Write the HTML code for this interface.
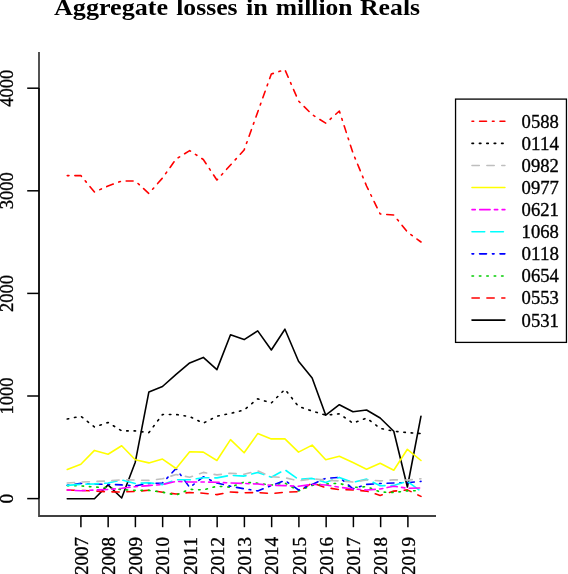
<!DOCTYPE html>
<html><head><meta charset="utf-8"><title>Aggregate losses</title>
<style>html,body{margin:0;padding:0;background:#fff;width:568px;height:574px;overflow:hidden;font-family:"Liberation Serif",serif}svg{display:block;will-change:transform}</style>
</head><body>
<svg width="568" height="574" viewBox="0 0 568 574">
<g font-family="Liberation Serif" font-weight="bold" font-size="22.5">
<text x="54" y="15.4" textLength="114" lengthAdjust="spacingAndGlyphs">Aggregate</text>
<text x="176.2" y="15.4" textLength="61.4" lengthAdjust="spacingAndGlyphs">losses</text>
<text x="245.9" y="15.4" textLength="21.9" lengthAdjust="spacingAndGlyphs">in</text>
<text x="275.8" y="15.4" textLength="76.7" lengthAdjust="spacingAndGlyphs">million</text>
<text x="360" y="15.4" textLength="60.1" lengthAdjust="spacingAndGlyphs">Reals</text>
</g>
<g fill="none" stroke-width="1.6" stroke-linejoin="round" stroke-linecap="round">
<polyline points="67.25,498.8 80.86,498.8 94.46,498.8 108.06,484.9 121.67,498 135.28,462.2 148.88,391.9 162.49,386.5 176.09,374.4 189.69,362.9 203.3,357.4 216.91,369.6 230.51,334.7 244.12,339.6 257.72,330.9 271.33,350 284.93,329.2 298.53,361.2 312.14,377.9 325.75,415.2 339.35,404.7 352.95,411.7 366.56,410 380.17,418 393.77,431.2 407.38,487 420.98,416.2" stroke="#000000"/>
<polyline points="67.25,490 80.86,490.5 94.46,491 108.06,491.8 121.67,492 135.28,491.4 148.88,490.2 162.49,492.2 176.09,494 189.69,492.5 203.3,493.2 216.91,494.6 230.51,492 244.12,492.8 257.72,492.5 271.33,493.6 284.93,492.2 298.53,491.7 312.14,483 325.75,487.6 339.35,489.6 352.95,489.9 366.56,491.1 380.17,495.4 393.77,491.1 407.38,489.9 420.98,496.4" stroke="#ff0000" stroke-dasharray="7.3,7.6"/>
<polyline points="67.25,485.6 80.86,485.9 94.46,487 108.06,487.8 121.67,489.6 135.28,490.4 148.88,490.4 162.49,492.2 176.09,495.1 189.69,489.3 203.3,489.9 216.91,486.2 230.51,487.2 244.12,482 257.72,483.3 271.33,485.1 284.93,483 298.53,490.9 312.14,485.4 325.75,484 339.35,483.3 352.95,487.5 366.56,486.6 380.17,492 393.77,492.5 407.38,490.9 420.98,490.7" stroke="#00cd00" stroke-dasharray="1.5,5.9"/>
<polyline points="67.25,485.3 80.86,483.4 94.46,484 108.06,484.4 121.67,484.9 135.28,485.8 148.88,483.5 162.49,483 176.09,468.5 189.69,487.5 203.3,476.8 216.91,483 230.51,486.2 244.12,488.8 257.72,490.9 271.33,485.6 284.93,480.4 298.53,490 312.14,484.4 325.75,478.3 339.35,477.4 352.95,488.8 366.56,484.4 380.17,483.5 393.77,483 407.38,482.7 420.98,481.4" stroke="#0000ff" stroke-dasharray="1.7,5.9,6.9,5.9"/>
<polyline points="67.25,485.4 80.86,484.3 94.46,483.9 108.06,483 121.67,480 135.28,483.5 148.88,482.7 162.49,484.6 176.09,479.8 189.69,479.8 203.3,477.7 216.91,477.9 230.51,475.3 244.12,476.1 257.72,472.4 271.33,477.2 284.93,469.8 298.53,479.4 312.14,478.4 325.75,482.5 339.35,477.4 352.95,482.3 366.56,479.1 380.17,485.8 393.77,485.4 407.38,481.3 420.98,491.4" stroke="#00ffff" stroke-dasharray="12.7,6"/>
<polyline points="67.25,490 80.86,490.8 94.46,490 108.06,489.5 121.67,488.3 135.28,486.7 148.88,485.6 162.49,484.5 176.09,481.4 189.69,482 203.3,482 216.91,482.3 230.51,483 244.12,483.5 257.72,484 271.33,485.4 284.93,485.6 298.53,486.2 312.14,484.4 325.75,485 339.35,487.2 352.95,489 366.56,490 380.17,489 393.77,486.2 407.38,488.3 420.98,488" stroke="#ff00ff" stroke-dasharray="3.3,4.4,10.4,4.3"/>
<polyline points="67.25,469.5 80.86,464.3 94.46,450.4 108.06,454.2 121.67,445.8 135.28,459.8 148.88,462.9 162.49,459.1 176.09,468.5 189.69,451.8 203.3,452.1 216.91,460.5 230.51,439.6 244.12,452.8 257.72,433.6 271.33,438.9 284.93,438.9 298.53,452.1 312.14,445.1 325.75,459.8 339.35,456.3 352.95,462.6 366.56,469.2 380.17,463.3 393.77,470.2 407.38,449.3 420.98,460.5" stroke="#ffff00"/>
<polyline points="67.25,483 80.86,482 94.46,481.5 108.06,481 121.67,479.8 135.28,480 148.88,480.4 162.49,478.8 176.09,474.5 189.69,477.2 203.3,472.4 216.91,474.9 230.51,473.2 244.12,474.3 257.72,470.8 271.33,476.7 284.93,477.7 298.53,481 312.14,478.7 325.75,480.2 339.35,480.9 352.95,482 366.56,480 380.17,480.9 393.77,479.8 407.38,480.1 420.98,478.8" stroke="#bebebe" stroke-dasharray="7.3,7.6"/>
<polyline points="67.25,419 80.86,416.2 94.46,427 108.06,422.5 121.67,430.9 135.28,430.9 148.88,432.6 162.49,414.5 176.09,414.5 189.69,416.6 203.3,423.2 216.91,416.2 230.51,413.4 244.12,410 257.72,398.8 271.33,403 284.93,389.3 298.53,406.5 312.14,411 325.75,415.2 339.35,413.8 352.95,423.2 366.56,418 380.17,428.4 393.77,431.2 407.38,432.6 420.98,433.6" stroke="#000000" stroke-dasharray="1.5,5.9"/>
<polyline points="67.25,175.6 80.86,175.6 94.46,192 108.06,186 121.67,181 135.28,181 148.88,193.5 162.49,178 176.09,159 189.69,150.6 203.3,159.5 216.91,180 230.51,165 244.12,150 257.72,112 271.33,74 284.93,69.7 298.53,101 312.14,114.6 325.75,123.2 339.35,111 352.95,153 366.56,186 380.17,214 393.77,215 407.38,232 420.98,242" stroke="#ff0000" stroke-dasharray="1.7,5.9,6.9,5.9"/>
</g>
<g stroke="#000" fill="none">
<path d="M39,52 V516 H436" stroke="#000" stroke-opacity="0.75" stroke-width="1.8"/>
<path d="M39,88 V498.5" stroke-width="1.8" stroke-opacity="0.75"/>
<path d="M80.9,516 H407.9" stroke-width="1.8" stroke-opacity="0.75"/>
<path d="M27.2,498.6 H39" stroke-width="1.5"/>
<path d="M27.2,396 H39" stroke-width="1.5"/>
<path d="M27.2,293.4 H39" stroke-width="1.5"/>
<path d="M27.2,190.8 H39" stroke-width="1.5"/>
<path d="M27.2,88.2 H39" stroke-width="1.5"/>
<path d="M80.9,516 V527.2" stroke-width="1.5"/>
<path d="M108.15,516 V527.2" stroke-width="1.5"/>
<path d="M135.4,516 V527.2" stroke-width="1.5"/>
<path d="M162.65,516 V527.2" stroke-width="1.5"/>
<path d="M189.9,516 V527.2" stroke-width="1.5"/>
<path d="M217.15,516 V527.2" stroke-width="1.5"/>
<path d="M244.4,516 V527.2" stroke-width="1.5"/>
<path d="M271.65,516 V527.2" stroke-width="1.5"/>
<path d="M298.9,516 V527.2" stroke-width="1.5"/>
<path d="M326.15,516 V527.2" stroke-width="1.5"/>
<path d="M353.4,516 V527.2" stroke-width="1.5"/>
<path d="M380.65,516 V527.2" stroke-width="1.5"/>
<path d="M407.9,516 V527.2" stroke-width="1.5"/>
</g>
<g font-family="Liberation Serif" font-size="19.3" fill="#000" stroke="#000" stroke-width="0.35" text-anchor="middle">
<text transform="translate(13.4,498.6) rotate(-90)">0</text>
<text transform="translate(13.4,396) rotate(-90)" textLength="37" lengthAdjust="spacingAndGlyphs">1000</text>
<text transform="translate(13.4,293.4) rotate(-90)" textLength="37" lengthAdjust="spacingAndGlyphs">2000</text>
<text transform="translate(13.4,190.8) rotate(-90)" textLength="37" lengthAdjust="spacingAndGlyphs">3000</text>
<text transform="translate(13.4,88.2) rotate(-90)" textLength="37" lengthAdjust="spacingAndGlyphs">4000</text>
<text transform="translate(87.5,556) rotate(-90)" textLength="38" lengthAdjust="spacingAndGlyphs">2007</text>
<text transform="translate(114.75,556) rotate(-90)" textLength="38" lengthAdjust="spacingAndGlyphs">2008</text>
<text transform="translate(142,556) rotate(-90)" textLength="38" lengthAdjust="spacingAndGlyphs">2009</text>
<text transform="translate(169.25,556) rotate(-90)" textLength="38" lengthAdjust="spacingAndGlyphs">2010</text>
<text transform="translate(196.5,556) rotate(-90)" textLength="38" lengthAdjust="spacingAndGlyphs">2011</text>
<text transform="translate(223.75,556) rotate(-90)" textLength="38" lengthAdjust="spacingAndGlyphs">2012</text>
<text transform="translate(251,556) rotate(-90)" textLength="38" lengthAdjust="spacingAndGlyphs">2013</text>
<text transform="translate(278.25,556) rotate(-90)" textLength="38" lengthAdjust="spacingAndGlyphs">2014</text>
<text transform="translate(305.5,556) rotate(-90)" textLength="38" lengthAdjust="spacingAndGlyphs">2015</text>
<text transform="translate(332.75,556) rotate(-90)" textLength="38" lengthAdjust="spacingAndGlyphs">2016</text>
<text transform="translate(360,556) rotate(-90)" textLength="38" lengthAdjust="spacingAndGlyphs">2017</text>
<text transform="translate(387.25,556) rotate(-90)" textLength="38" lengthAdjust="spacingAndGlyphs">2018</text>
<text transform="translate(414.5,556) rotate(-90)" textLength="38" lengthAdjust="spacingAndGlyphs">2019</text>
</g>
<rect x="455.55" y="99.1" width="110.9" height="243.3" fill="none" stroke="#000" stroke-width="1.3"/>
<g fill="none" stroke-width="1.6" stroke-linecap="round">
<path d="M472,121.3 H504.9" stroke="#ff0000" stroke-dasharray="1.7,5.9,6.9,5.9"/>
<path d="M472,143.39 H504.9" stroke="#000000" stroke-dasharray="1.5,5.9"/>
<path d="M472,165.48 H504.9" stroke="#bebebe" stroke-dasharray="7.3,7.6"/>
<path d="M472,187.57 H504.9" stroke="#ffff00"/>
<path d="M472,209.66 H504.9" stroke="#ff00ff" stroke-dasharray="3.3,4.4,10.4,4.3"/>
<path d="M472,231.75 H504.9" stroke="#00ffff" stroke-dasharray="12.7,6"/>
<path d="M472,253.84 H504.9" stroke="#0000ff" stroke-dasharray="1.7,5.9,6.9,5.9"/>
<path d="M472,275.93 H504.9" stroke="#00cd00" stroke-dasharray="1.5,5.9"/>
<path d="M472,298.02 H504.9" stroke="#ff0000" stroke-dasharray="7.3,7.6"/>
<path d="M472,320.11 H504.9" stroke="#000000"/>
</g>
<g font-family="Liberation Serif" font-size="19.3" fill="#000" stroke="#000" stroke-width="0.35">
<text x="521.6" y="127.7" textLength="37.3" lengthAdjust="spacingAndGlyphs">0588</text>
<text x="521.6" y="149.79" textLength="37.3" lengthAdjust="spacingAndGlyphs">0114</text>
<text x="521.6" y="171.88" textLength="37.3" lengthAdjust="spacingAndGlyphs">0982</text>
<text x="521.6" y="193.97" textLength="37.3" lengthAdjust="spacingAndGlyphs">0977</text>
<text x="521.6" y="216.06" textLength="37.3" lengthAdjust="spacingAndGlyphs">0621</text>
<text x="521.6" y="238.15" textLength="37.3" lengthAdjust="spacingAndGlyphs">1068</text>
<text x="521.6" y="260.24" textLength="37.3" lengthAdjust="spacingAndGlyphs">0118</text>
<text x="521.6" y="282.33" textLength="37.3" lengthAdjust="spacingAndGlyphs">0654</text>
<text x="521.6" y="304.42" textLength="37.3" lengthAdjust="spacingAndGlyphs">0553</text>
<text x="521.6" y="326.51" textLength="37.3" lengthAdjust="spacingAndGlyphs">0531</text>
</g>
</svg>
</body></html>
